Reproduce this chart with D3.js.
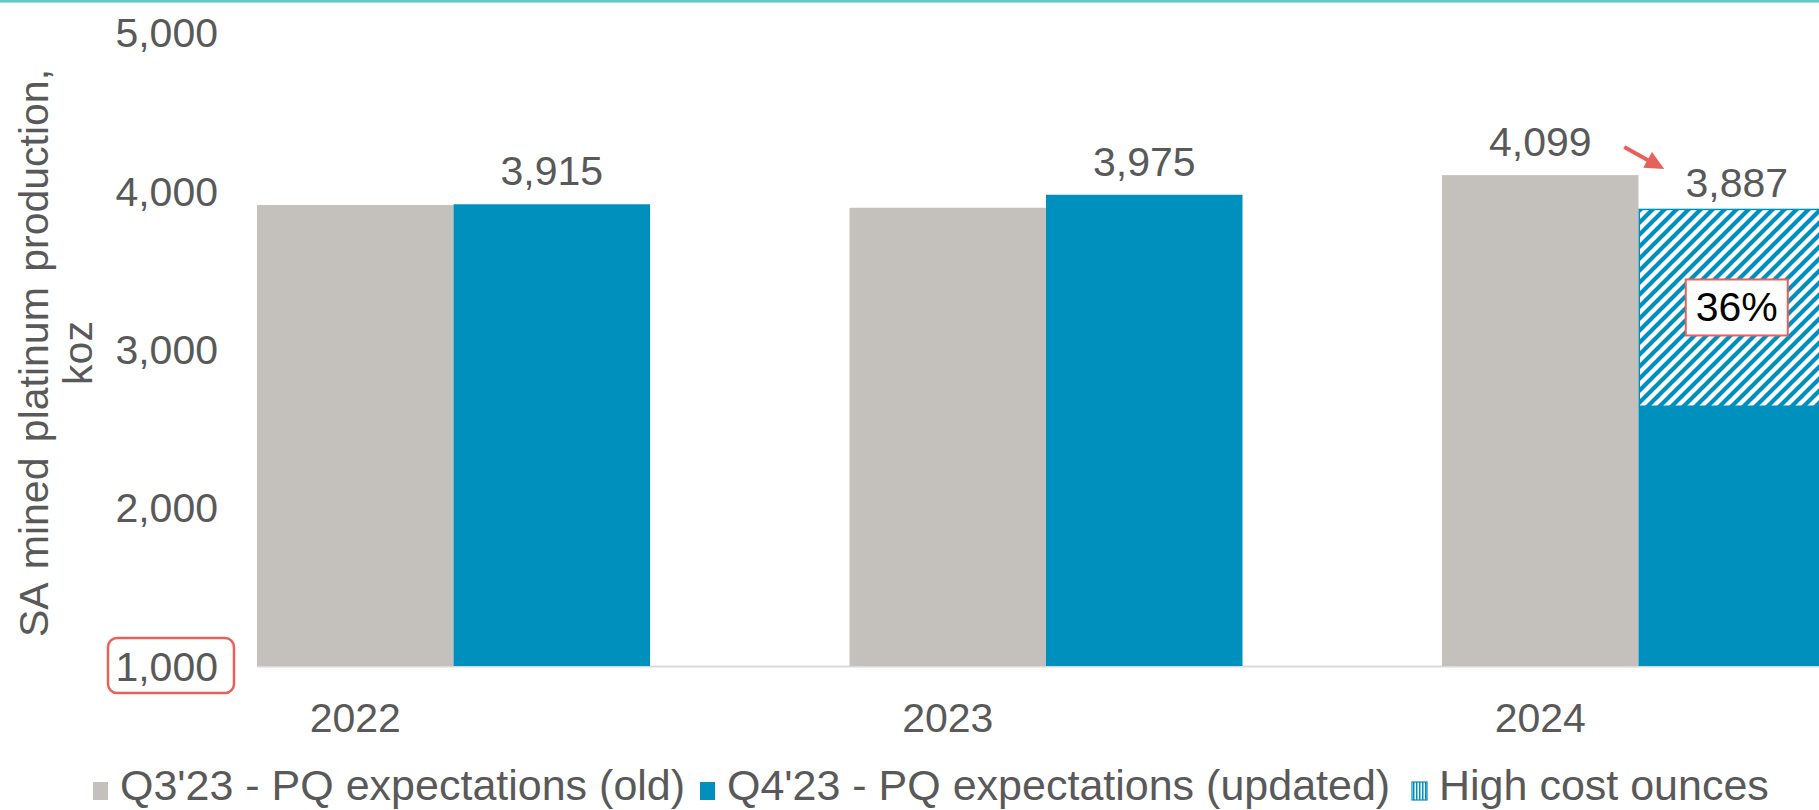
<!DOCTYPE html>
<html>
<head>
<meta charset="utf-8">
<script src="https://cdn.jsdelivr.net/npm/d3@7"></script>
<style>
  html, body { margin: 0; padding: 0; background: #fff; overflow: hidden; }
  svg { display: block; font-family: Arial, "Liberation Sans", sans-serif; }
</style>
</head>
<body>
<svg id="chart" width="1819" height="810"></svg>
<script>
// ---- data ----
const categories = ["2022", "2023", "2024"];
const seriesKeys = ["old", "updated"];
const oldValues = [3910, 3893, 4099];          // Q3'23 - PQ expectations (old)
const updatedValues = [3915, 3975, 3887];      // Q4'23 - PQ expectations (updated)
const highCostOunces = [0, 0, 1247];           // hatched part of the updated bar
const oldLabelShown = [false, false, true];
const updatedLabelShown = [true, true, true];
const highCostShareLabels = ["", "", "36%"];
const yTicks = [1000, 2000, 3000, 4000, 5000];
const highlightedTick = 1000;
const legendLabels = ["Q3'23 - PQ expectations (old)", "Q4'23 - PQ expectations (updated)", "High cost ounces"];
const yTitleLines = ["SA mined platinum production,", "koz"];

// ---- styles ----
const W = 1819, H = 810;
const GREY = "#C4C1BC", BLUE = "#0090BD", TEXT = "#595959", RED = "#E8605A";
const FONT = 41, LEG_FONT = 43;

const svg = d3.select("#chart");
const defs = svg.append("defs");

// diagonal hatch
const hatch = defs.append("pattern").attr("id", "hatch")
  .attr("patternUnits", "userSpaceOnUse").attr("width", 12).attr("height", 12);
hatch.append("rect").attr("width", 12).attr("height", 12).attr("fill", "#fff");
hatch.append("path").attr("d", "M-3,3 L3,-3 M0,12 L12,0 M9,15 L15,9")
  .attr("stroke", BLUE).attr("stroke-width", 4.2);

// vertical stripes for legend key
const vhatch = defs.append("pattern").attr("id", "vhatch")
  .attr("patternUnits", "userSpaceOnUse").attr("width", 3).attr("height", 3);
vhatch.append("rect").attr("width", 3).attr("height", 3).attr("fill", "#fff");
vhatch.append("rect").attr("width", 1.5).attr("height", 3).attr("fill", BLUE);

// top teal rule
svg.append("rect").attr("x", 0).attr("y", 0).attr("width", W).attr("height", 2.6).attr("fill", "#63C9C6");

// ---- scales ----
const y = d3.scaleLinear().domain([1000, 5000]).range([666, 32.4]);
const step = 592.5, groupW = 393;
const padIn = 1 - groupW / step;
const firstLeft = 257;
const x0 = d3.scaleBand().domain(categories)
  .range([firstLeft - step * padIn / 2, firstLeft - step * padIn / 2 + step * 3])
  .paddingInner(padIn).paddingOuter(padIn / 2);
const x1 = d3.scaleBand().domain(seriesKeys).range([0, x0.bandwidth()]).padding(0);
const bw = x1.bandwidth();

const rows = categories.map((c, i) => ({
  cat: c, old: oldValues[i], updated: updatedValues[i], high: highCostOunces[i],
  oldLabel: oldLabelShown[i], updLabel: updatedLabelShown[i], share: highCostShareLabels[i]
}));

// ---- axis line ----
svg.append("line").attr("x1", x0(categories[0])).attr("x2", W)
  .attr("y1", y(1000) + 0.5).attr("y2", y(1000) + 0.5)
  .attr("stroke", "#D9D9D9").attr("stroke-width", 2);

// ---- bars ----
const g = svg.append("g");
const grp = g.selectAll("g.cat").data(rows).join("g").attr("class", "cat")
  .attr("transform", d => `translate(${x0(d.cat)},0)`);

grp.append("rect").attr("x", x1("old")).attr("width", bw)
  .attr("y", d => y(d.old)).attr("height", d => y(1000) - y(d.old)).attr("fill", GREY);

grp.append("rect").attr("x", x1("updated")).attr("width", bw)
  .attr("y", d => y(d.updated - d.high)).attr("height", d => y(1000) - y(d.updated - d.high)).attr("fill", BLUE);

grp.filter(d => d.high > 0).append("rect")
  .attr("x", x1("updated") + 0.75).attr("width", bw - 1.5)
  .attr("y", d => y(d.updated) + 0.75).attr("height", d => y(d.updated - d.high) - y(d.updated) - 0.75)
  .attr("fill", "url(#hatch)").attr("stroke", BLUE).attr("stroke-width", 1.5);

// data labels
grp.filter(d => d.oldLabel).append("text")
  .attr("x", x1("old") + bw / 2).attr("y", d => y(d.old) - 19)
  .attr("text-anchor", "middle").attr("font-size", FONT).attr("fill", TEXT)
  .text(d => d3.format(",")(d.old));
grp.filter(d => d.updLabel).append("text")
  .attr("x", x1("updated") + bw / 2).attr("y", d => y(d.updated) - (d.high > 0 ? 12 : 19))
  .attr("text-anchor", "middle").attr("font-size", FONT).attr("fill", TEXT)
  .text(d => d3.format(",")(d.updated));

// share box
const shareG = grp.filter(d => d.share !== "").append("g")
  .attr("transform", d => `translate(${x1("updated") + bw / 2},${(y(d.updated) + y(d.updated - d.high)) / 2})`);
shareG.append("rect").attr("x", -51).attr("y", -28).attr("width", 102).attr("height", 56)
  .attr("fill", "#fff").attr("stroke", RED).attr("stroke-width", 2);
shareG.append("text").attr("x", 0).attr("y", 14).attr("text-anchor", "middle")
  .attr("font-size", FONT).attr("fill", "#000").text(d => d.share);

// arrow between the 2024 labels
rows.filter(d => d.high > 0).forEach(d => {
  const cx = x0(d.cat) + x1("old") + bw / 2;
  const sx = cx + 84, sy = y(d.old) - 28;
  const ex = cx + 124, ey = y(d.old) - 6;
  const ang = Math.atan2(ey - sy, ex - sx);
  const hl = 19, hw = 9;
  const bx = ex - hl * Math.cos(ang), by = ey - hl * Math.sin(ang);
  svg.append("line").attr("x1", sx).attr("y1", sy).attr("x2", bx + 2 * Math.cos(ang)).attr("y2", by + 2 * Math.sin(ang))
    .attr("stroke", RED).attr("stroke-width", 4);
  const px = -Math.sin(ang), py = Math.cos(ang);
  svg.append("polygon")
    .attr("points", [[ex, ey], [bx + px * hw, by + py * hw], [bx - px * hw, by - py * hw]].map(p => p.join(",")).join(" "))
    .attr("fill", RED);
});

// ---- y axis ----
const yAxis = d3.axisLeft(y).tickValues(yTicks).tickFormat(d3.format(",")).tickSize(0).tickPadding(0);
const yg = svg.append("g").attr("transform", "translate(218,0)").call(yAxis);
yg.select(".domain").remove();
yg.selectAll("text").attr("font-size", FONT).attr("fill", TEXT)
  .attr("font-family", "Arial, 'Liberation Sans', sans-serif").attr("dy", "0.35em");

// highlight box around 1,000
svg.append("rect").attr("x", 108).attr("y", y(highlightedTick) - 28).attr("width", 126).attr("height", 55)
  .attr("rx", 9).attr("fill", "none").attr("stroke", RED).attr("stroke-width", 2.5);

// ---- x labels (centred on the first series bar) ----
svg.append("g").selectAll("text").data(categories).join("text")
  .attr("x", d => x0(d) + x1("old") + bw / 2).attr("y", 732)
  .attr("text-anchor", "middle").attr("font-size", FONT).attr("fill", TEXT).text(d => d);

// ---- y title ----
const yt = svg.append("text").attr("transform", "translate(48,353) rotate(-90)")
  .attr("text-anchor", "middle").attr("font-size", FONT).attr("fill", TEXT)
  .attr("word-spacing", "4px");
yt.selectAll("tspan").data(yTitleLines).join("tspan")
  .attr("x", 0).attr("dy", (d, i) => i === 0 ? 0 : 44).text(d => d);

// ---- legend ----
const legFills = [GREY, BLUE, "url(#vhatch)"];
const legTextX = [120, 727, 1439];
const leg = svg.append("g");
legendLabels.forEach((lab, i) => {
  const tx = legTextX[i];
  leg.append("rect").attr("x", tx - 27).attr("y", 782).attr("width", 15).attr("height", 18)
    .attr("fill", legFills[i]).attr("stroke", i === 2 ? BLUE : "none").attr("stroke-width", 1.2);
  leg.append("text").attr("x", tx).attr("y", 800).attr("font-size", LEG_FONT)
    .attr("fill", TEXT).text(lab);
});
</script>
</body>
</html>
